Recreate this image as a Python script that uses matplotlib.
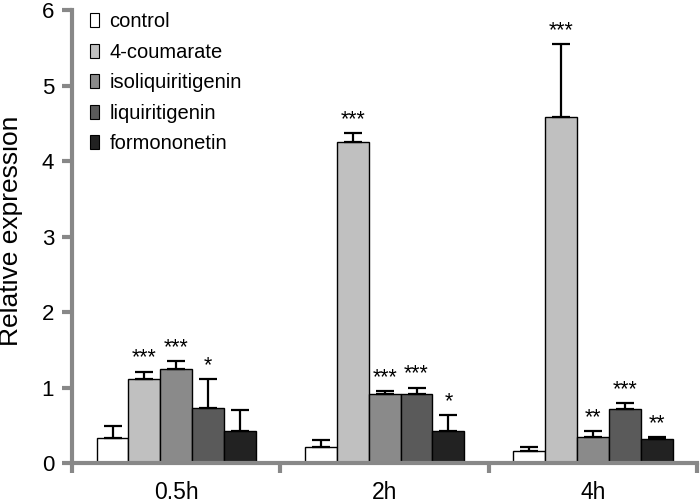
import numpy as np
import matplotlib
matplotlib.use("Agg")
import matplotlib.pyplot as plt
from matplotlib.patches import Patch

plt.rcParams['font.family'] = ['Liberation Sans', 'DejaVu Sans']

groups = ["0.5h", "2h", "4h"]
treatments = ["control", "4-coumarate", "isoliquiritigenin", "liquiritigenin", "formononetin"]
colors = ["#ffffff", "#c0c0c0", "#8a8a8a", "#5a5a5a", "#222222"]

# rows = treatment, cols = time point
means = np.array([
    [0.33, 0.21, 0.16],
    [1.11, 4.25, 4.58],
    [1.245, 0.91, 0.35],
    [0.73, 0.91, 0.71],
    [0.43, 0.43, 0.32],
])
errs = np.array([
    [0.16, 0.09, 0.05],
    [0.10, 0.12, 0.97],
    [0.10, 0.04, 0.07],
    [0.38, 0.09, 0.08],
    [0.27, 0.20, 0.02],
])
stars = [
    ["", "", ""],
    ["***", "***", "***"],
    ["***", "***", "**"],
    ["*", "***", "***"],
    ["", "*", "**"],
]

fig = plt.figure(figsize=(7.0, 5.03), dpi=100)
ax = fig.add_axes([0.103, 0.0795, 0.893, 0.9005])

width = 0.153
centers = np.arange(len(groups)) + 0.5
for i, name in enumerate(treatments):
    xs = centers + (i - 2) * width
    ax.bar(xs, means[i], width, color=colors[i], edgecolor="black", linewidth=1.0, zorder=2)
    ax.errorbar(xs, means[i], yerr=[np.zeros(3), errs[i]], fmt="none", ecolor="black",
                elinewidth=1.6, capsize=6.5, capthick=1.6, zorder=3)
    for j in range(3):
        if stars[i][j]:
            ax.text(xs[j], means[i][j] + errs[i][j] + 0.04, stars[i][j], ha="center",
                    va="bottom", fontsize=15.5)

ax.set_xlim(0, 3)
ax.set_ylim(0, 6)
ax.set_yticks(range(7))
ax.set_xticks([0, 1, 2, 3])
ax.set_xticklabels([])
ax.set_xticks(centers, minor=True)
ax.set_xticklabels(groups, minor=True, fontsize=16.5)
ax.tick_params(axis="x", which="minor", length=0, pad=13)
ax.tick_params(axis="x", which="major", length=7, width=3, color="#888888")
ax.tick_params(axis="y", length=7, width=3, color="#888888", labelsize=16, pad=6)
for s in ["top", "right"]:
    ax.spines[s].set_visible(False)
for s in ["left", "bottom"]:
    ax.spines[s].set_color("#888888")
    ax.spines[s].set_linewidth(3)
ax.set_ylabel("Relative expression", fontsize=19)
ax.yaxis.set_label_coords(-0.078, 0.512)

handles = [Patch(facecolor=c, edgecolor="black", linewidth=0.8) for c in colors]
ax.legend(handles, treatments, loc="upper left", bbox_to_anchor=(0.0, 1.035), frameon=False,
          fontsize=14.5, handlelength=0.45, handleheight=0.7, handletextpad=0.5,
          labelspacing=0.57)

fig.savefig("out.png", dpi=100)
